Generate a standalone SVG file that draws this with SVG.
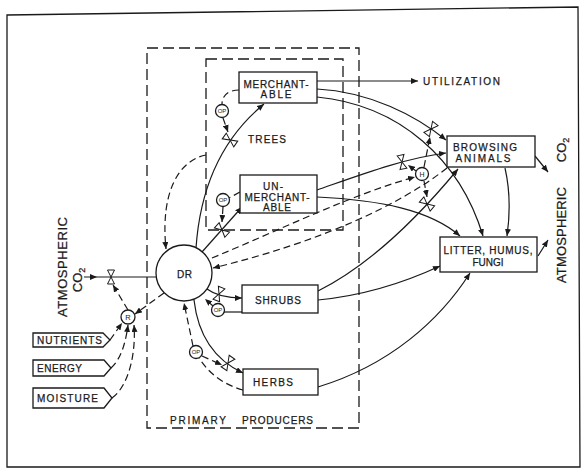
<svg xmlns="http://www.w3.org/2000/svg" width="585" height="469" viewBox="0 0 585 469">
<style>
text{font-family:"Liberation Sans",Arial,sans-serif;fill:#1a1a1a;stroke:#1a1a1a;stroke-width:0.25;text-anchor:middle}
.lbl{font-size:10px}
.sm{font-size:6px;stroke-width:0}
.box{fill:#fff;stroke:#1a1a1a;stroke-width:1.3}
.ln{fill:none;stroke:#1a1a1a;stroke-width:1.2}
.ds{fill:none;stroke:#1a1a1a;stroke-width:1.2;stroke-dasharray:7 4}
.bd{fill:none;stroke:#1a1a1a;stroke-width:1.3;stroke-dasharray:11 5}
.aw{marker-end:url(#ah)}
</style>
<defs>
<marker id="ah" markerUnits="userSpaceOnUse" markerWidth="8" markerHeight="6" refX="7" refY="3" orient="auto"><path d="M0,0 L7,3 L0,6 Z" fill="#1a1a1a"/></marker>
<g id="valve"><path d="M-3.5,-7 L3.5,-7 L0,0 Z M-3.5,7 L3.5,7 L0,0 Z" fill="#fff" stroke="#1a1a1a" stroke-width="1"/></g>
</defs>
<rect width="585" height="469" fill="#fff"/>
<path d="M7,15 L578,7 L580,467 L7,467 Z" fill="none" stroke="#1a1a1a" stroke-width="1.3"/>

<g id="primary-producers">
<rect x="147" y="48" width="212" height="380" class="bd"/>
<text class="lbl" x="198" y="424" textLength="56">PRIMARY</text>
<text class="lbl" x="277.5" y="424" textLength="71">PRODUCERS</text>
</g>
<g id="trees">
<rect x="206" y="59" width="137" height="171" class="bd"/>
<text class="lbl" x="267" y="143" textLength="38">TREES</text>
</g>

<g id="connectors">
<path d="M84,277 L97,277 L156,277" class="ln" marker-mid="url(#ah)"/>
<path d="M196,248 C200,190 220,140 264,104" class="ln aw"/>
<path d="M202,252 L242,207" class="ln aw"/>
<path d="M207,289 C215,295 228,298 242,298" class="ln aw"/>
<path d="M194,300 C198,335 215,360 243,373" class="ln aw"/>
<path d="M317,81 L418,81" class="ln aw"/>
<path d="M317,89 C370,92 415,115 446,140" class="ln aw"/>
<path d="M317,97 C400,105 460,160 483,236" class="ln aw"/>
<path d="M317,190 C360,175 405,158 446,153" class="ln aw"/>
<path d="M317,197 C380,200 430,210 460,236" class="ln aw"/>
<path d="M318,291 C370,265 420,215 458,169" class="ln aw"/>
<path d="M318,300 C370,295 410,280 440,266" class="ln aw"/>
<path d="M318,387 C390,365 440,320 470,273" class="ln aw"/>
<path d="M505,168 C510,190 510,215 507,236" class="ln aw"/>
<path d="M535,156 L548,172" class="ln aw"/>
<path d="M538,256 L548,240" class="ln aw"/>
<path d="M206,155 C180,160 160,190 166,249" class="ds aw"/>
<path d="M212,258 C280,230 350,195 415,177" class="ds aw"/>
<path d="M447,168 C400,205 320,242 213,268" class="ds aw"/>
<path d="M239,90 C228,90 222,96 222,104" class="ds"/>
<path d="M223,118 L228,132" class="ds aw"/>
<path d="M240,192 L229,198" class="ds"/>
<path d="M223,207 L222,222" class="ds aw"/>
<path d="M224,312 L242,312" class="ln"/>
<path d="M213,306 L205,299" class="ds aw"/>
<path d="M193,346 L184,303" class="ds aw"/>
<path d="M243,390 C225,385 210,375 199,358" class="ds"/>
<path d="M202,356 L222,365" class="ds aw"/>
<path d="M424,167 L430,137" class="ds aw"/>
<path d="M416,171 L408,165" class="ds aw"/>
<path d="M424,181 L427,197" class="ds aw"/>
<path d="M128,310 L113,285" class="ds aw"/>
<path d="M164,293 L135,314" class="ds aw"/>
<path d="M110,340 L122,323" class="ds aw"/>
<path d="M111,368 C122,358 126,340 128,325" class="ds aw"/>
<path d="M112,398 C130,385 136,350 134,325" class="ds aw"/>
<use href="#valve" transform="translate(111,277)"/>
<use href="#valve" transform="translate(230,140) rotate(-55)"/>
<use href="#valve" transform="translate(222,230) rotate(-48)"/>
<use href="#valve" transform="translate(219,294) rotate(22)"/>
<use href="#valve" transform="translate(228,363) rotate(35)"/>
<use href="#valve" transform="translate(431,129) rotate(38)"/>
<use href="#valve" transform="translate(402,162) rotate(-12)"/>
<use href="#valve" transform="translate(427,204) rotate(-50)"/>
</g>

<g id="dr"><circle cx="184" cy="273" r="28" class="box"/><text class="lbl" x="184.5" y="277.5" textLength="15">DR</text></g>
<g id="merchantable"><rect x="239" y="72" width="78" height="31" class="box"/>
<text class="lbl" x="276" y="87.5" textLength="65">MERCHANT-</text><text class="lbl" x="276" y="98" textLength="31">ABLE</text></g>
<g id="unmerchantable"><rect x="240" y="175" width="77" height="38" class="box"/>
<text class="lbl" x="273" y="190" textLength="20">UN-</text><text class="lbl" x="277" y="200.5" textLength="65">MERCHANT-</text><text class="lbl" x="277" y="210.5" textLength="28">ABLE</text></g>
<g id="shrubs"><rect x="242" y="285" width="76" height="28" class="box"/><text class="lbl" x="278" y="303.5" textLength="46">SHRUBS</text></g>
<g id="herbs"><rect x="243" y="369" width="75" height="26" class="box"/><text class="lbl" x="273" y="386" textLength="40">HERBS</text></g>
<g id="browsing"><rect x="447" y="136" width="88" height="31" class="box"/>
<text class="lbl" x="485" y="150.5" textLength="64">BROWSING</text><text class="lbl" x="483" y="161.5" textLength="55">ANIMALS</text></g>
<g id="litter"><rect x="440" y="237" width="97" height="35" class="box"/>
<text class="lbl" x="488" y="253.5" textLength="89">LITTER, HUMUS,</text><text class="lbl" x="488" y="265.5">FUNGI</text></g>
<g id="utilization"><text class="lbl" x="461.5" y="85" textLength="77">UTILIZATION</text></g>
<g id="op-merch"><circle cx="222" cy="111" r="6.5" class="box"/><text class="sm" x="222" y="113.2">OP</text></g>
<g id="op-unmerch"><circle cx="223" cy="200" r="6.5" class="box"/><text class="sm" x="223" y="202.2">OP</text></g>
<g id="op-shrubs"><circle cx="218" cy="310" r="6.5" class="box"/><text class="sm" x="218" y="312.2">OP</text></g>
<g id="op-herbs"><circle cx="196" cy="352" r="6.5" class="box"/><text class="sm" x="196" y="354.2">OP</text></g>
<g id="h"><circle cx="422" cy="174" r="6.5" class="box"/><text style="font-size:7px;stroke-width:0" x="422" y="176.5">H</text></g>
<g id="r"><circle cx="128" cy="317" r="7" class="box"/><text style="font-size:7.5px;stroke-width:0" x="128" y="319.7">R</text></g>
<g id="nutrients"><path d="M33,333 L103,333 L110,340 L103,347 L33,347 Z" class="box"/><text class="lbl" x="69.5" y="344" textLength="65">NUTRIENTS</text></g>
<g id="energy"><path d="M33,360 L104,360 L111,368 L104,376 L33,376 Z" class="box"/><text class="lbl" x="59.5" y="372" textLength="45">ENERGY</text></g>
<g id="moisture"><path d="M33,388 L104,388 L112,398 L104,408 L33,408 Z" class="box"/><text class="lbl" x="67.5" y="402" textLength="61">MOISTURE</text></g>
<g id="atm-left">
<text style="font-size:13px" transform="translate(67,267) rotate(-90)" textLength="100">ATMOSPHERIC</text>
<text style="font-size:13px" transform="translate(82,280) rotate(-90)">CO<tspan style="font-size:9px" dy="3">2</tspan></text>
</g>
<g id="atm-right">
<text style="font-size:13px" transform="translate(566,235) rotate(-90)" textLength="96">ATMOSPHERIC</text>
<text style="font-size:13px" transform="translate(566,150) rotate(-90)">CO<tspan style="font-size:9px" dy="3">2</tspan></text>
</g>
</svg>
